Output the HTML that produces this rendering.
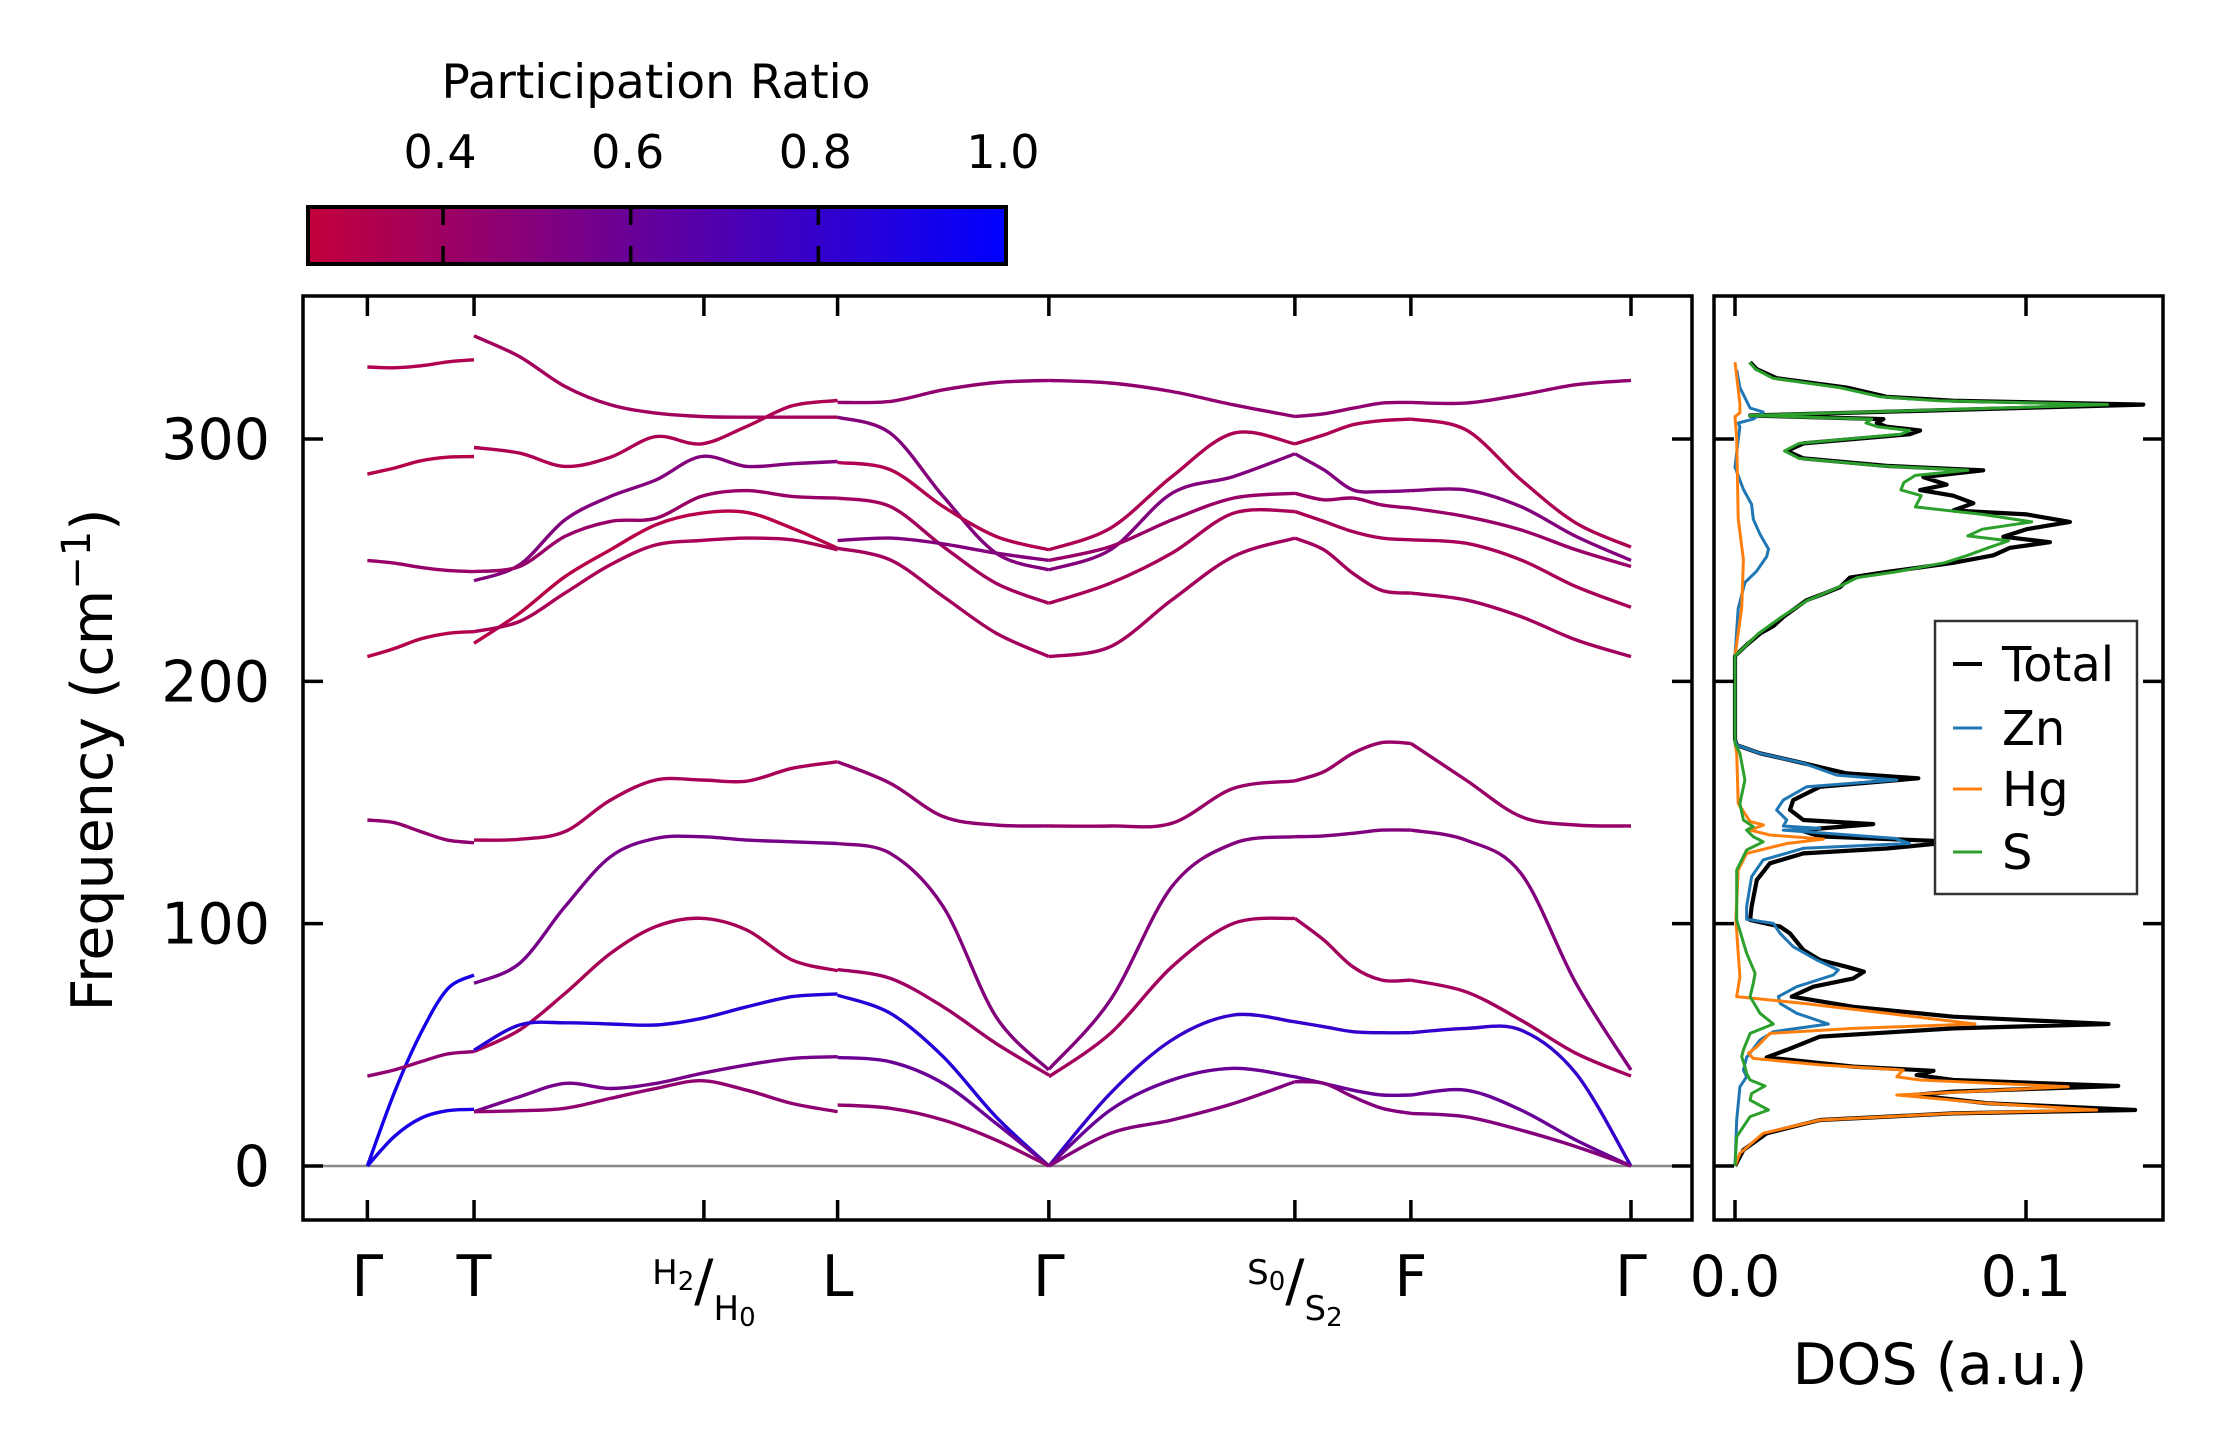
<!DOCTYPE html>
<html><head><meta charset="utf-8"><title>Phonon bands and DOS</title>
<style>
html,body{margin:0;padding:0;background:#fff;}
svg{display:block;font-family:"DejaVu Sans","Liberation Sans",sans-serif;}
</style></head>
<body>
<svg id="fig" width="2222" height="1455" viewBox="0 0 2222 1455" xmlns="http://www.w3.org/2000/svg">
<defs>
<clipPath id="clipMain"><rect x="303" y="296" width="1389" height="924"/></clipPath>
<clipPath id="clipDos"><rect x="1714" y="296" width="449" height="924"/></clipPath>
<linearGradient id="cbGrad" x1="0" x2="1" y1="0" y2="0"></linearGradient>
</defs>
<g id="colorbar">
<text x="656" y="98" font-size="47" text-anchor="middle">Participation Ratio</text>
<rect id="cbRect" x="308" y="207" width="698" height="57" fill="url(#cbGrad)" stroke="#000" stroke-width="4"/>
<g id="cbTicks"></g>
</g>
<g id="mainPanel">
<line x1="303" x2="1692" y1="1166" y2="1166" stroke="#888" stroke-width="2.5"/>
<g id="bands" clip-path="url(#clipMain)"></g>
<rect x="303" y="296" width="1389" height="924" fill="none" stroke="#000" stroke-width="3.5"/>
<g id="mainTicks"></g>
<text transform="translate(112,760) rotate(-90)" font-size="57" text-anchor="middle">Frequency (cm<tspan font-size="40" dy="-22">−1</tspan><tspan dy="22">)</tspan></text>
</g>
<g id="dosPanel">
<g id="dosLines" clip-path="url(#clipDos)"></g>
<rect x="1714" y="296" width="449" height="924" fill="none" stroke="#000" stroke-width="3.5"/>
<g id="dosTicks"></g>
<text x="1940" y="1384" font-size="57" text-anchor="middle">DOS (a.u.)</text>
<g>
<rect x="1935" y="621" width="202" height="273" fill="#fff" stroke="#333" stroke-width="2.5"/>
<g><line x1="1953" x2="1982" y1="664" y2="664" stroke="#000" stroke-width="4"/><text x="2002" y="681" font-size="48">Total</text></g>
<g><line x1="1953" x2="1982" y1="728" y2="728" stroke="#1f77b4" stroke-width="3"/><text x="2002" y="745" font-size="48">Zn</text></g>
<g><line x1="1953" x2="1982" y1="789" y2="789" stroke="#ff7f0e" stroke-width="3"/><text x="2002" y="806" font-size="48">Hg</text></g>
<g><line x1="1953" x2="1982" y1="852" y2="852" stroke="#2ca02c" stroke-width="3"/><text x="2002" y="869" font-size="48">S</text></g>
</g>
</g>
</svg>
<script>
// ---- data ----
const kLabels = ["Γ","T","H","L","Γ","S","F","Γ"];
const kPos = [0, 0.0844, 0.2663, 0.3721, 0.5393, 0.7340, 0.8258, 1.0];
const freqTicks = [0, 100, 200, 300];
const cbTicks = [0.4, 0.6, 0.8, 1.0];
const dosTicks = [0.0, 0.1];
const cbMin = 0.256, cbMax = 1.0;

// Gamma -> T (5 samples each)
const freqGT = [
 [329.7,329.4,330.2,331.8,332.7],[285.5,288,291,292.5,292.8],[249.9,248.8,247,245.8,245.3],
 [210.2,213.5,217.5,219.8,220.5],[142.8,141.7,138,134.5,133.4],[0,30,54.7,73,78.8],
 [37.1,39.6,43,46.2,47.2],[0,12.1,19.7,22.8,23.4]];
const prGT = [0.33,0.31,0.42,0.31,0.45,0.92,0.45,0.9];
// T -> L (9 samples)
const freqTL = [
 [342.6,334,321.7,314.1,310.7,309.3,309,309,309],
 [296.5,294.2,288.7,292.5,301,298,305.2,313.7,315.9],
 [241.5,248.1,266.6,276.3,283.1,292.8,288.7,289.8,290.7],
 [245.3,247.4,259.8,266,267.3,276.3,278.7,276.3,275.6],
 [215.7,228.1,243.2,254.3,264.6,269.4,269.7,263.2,254.9],
 [220.5,224.7,236.4,248.1,256.3,258.1,259.1,258.4,254.3],
 [134.5,134.8,138,151,159.3,159.3,158.8,164.1,166.8],
 [75.4,83.6,107,127.6,135.2,135.9,134.5,133.8,133.1],
 [47.2,56.1,71.2,87.7,98.8,102.2,97.4,85,80.6],
 [47.8,58.2,59.1,58.6,58.2,60.9,65.7,69.9,71],
 [22.4,28.6,34.1,32,34.1,38.2,41.7,44.4,45.1],
 [22.4,22.8,23.8,27.9,32,35.2,31.3,25.8,22.4]];
const prTL = [0.38,0.34,0.5,0.42,0.3,0.35,0.36,0.55,0.36,0.85,0.55,0.45];
// L -> Gamma
const freqLG = [
 [315.1,315.5,320.3,323.3,324.2],[309,302.4,276.3,252.9,246],[290.3,287.3,272.1,259.8,254.3],
 [275.6,272.1,255.6,240.5,232.2],[258.1,259.1,256.7,252.9,249.9],[254.9,250.1,235,219.9,210.2],
 [166.8,157.9,144.2,140.7,140.3],[133.1,129,107,61.6,39.6],[81.1,77.4,65.7,50.6,37.5],
 [70.5,63,45.1,20.3,0],[44.8,43,34.1,17.6,0],[25.2,23.8,19,10.7,0]];
const prLG = [0.45,0.5,0.33,0.38,0.5,0.38,0.45,0.5,0.4,0.85,0.6,0.45];
// Gamma -> S
const freqGS = [
 [324.2,323.1,319.6,314.1,309.3],[254.3,263.2,284.5,302.4,298],[246,254.3,277.6,284.5,293.9],
 [249.9,255.6,266.6,275.6,277.6],[232.2,240.5,252.9,269.4,270.1],[210.2,214.3,233.6,251.5,259.1],
 [140.3,140.3,141.4,155.8,158.9],[39.9,68.5,115.3,133.1,135.9],[36.8,54.7,82.2,100.1,102.2],
 [0,30,52,62.3,59.5],[0,23.1,35.5,40.3,36.8],[0,13.5,19,25.8,34.8]];
// S -> F
const freqSF = [
 [309.3,310.4,312.7,314.8,315.1],[298,301.7,305.9,307.6,308.2],[293.9,287.3,279,278.3,278.7],
 [277.6,274.9,275.6,272.8,271.5],[270.1,266,261.8,259.1,258.4],[259.1,254.3,244.6,237.5,236.4],
 [158.9,162.7,170.3,174.7,174.4],[135.9,136.2,137.3,138.6,138.6],[102.2,93.2,82.2,76.7,76.7],
 [59.5,57.5,55.4,55,55],[36.8,34.1,31.3,29.3,29.3],[34.8,34.1,28.6,23.8,21.7]];
// F -> Gamma
const freqFG = [
 [315.1,314.8,318.2,322.4,324.2],[308.2,303.8,283.2,265.3,255.4],[278.7,279,272.1,259.8,249.9],
 [271.5,268,262.5,254.3,247.4],[258.4,257,250.1,239.1,230.6],[236.4,233.6,226.7,217.1,210.2],
 [174.4,159.3,144.2,140.7,140.3],[138.6,134.5,120.8,75.4,39.6],[76.7,71.9,60.2,46.5,37.1],
 [55,56.8,56.1,38.2,0],[29.3,31.3,23.1,10.7,0],[21.7,20.3,14.8,8,0]];
const prGSFG = [0.45,0.34,0.5,0.42,0.36,0.38,0.42,0.5,0.38,0.8,0.6,0.5];

// DOS: [frequency, dos]
const dosTotal = [[0,0],[6.6,0.0029],[13.5,0.0109],[19,0.0292],[21.7,0.075],[23.1,0.1375],[25.9,0.0865],[29.3,0.0613],[30.7,0.075],[33,0.1317],[35.5,0.075],[37.5,0.0624],[39.3,0.0682],[41,0.0407],[44.8,0.0109],[47.9,0.0178],[53.4,0.0292],[56.8,0.075],[58.6,0.1283],[61.6,0.075],[65.7,0.0407],[69.9,0.0195],[74,0.0269],[77.4,0.0407],[80.2,0.0443],[82.2,0.0384],[85,0.0292],[89.1,0.0235],[96,0.0189],[98.8,0.0155],[101.5,0.0052],[107,0.0057],[118,0.0075],[124.9,0.012],[129,0.0235],[131,0.0521],[133,0.0693],[134.2,0.0682],[136,0.0292],[138.6,0.0223],[141.1,0.0475],[142.8,0.0235],[147,0.0189],[151,0.02],[156.5,0.0292],[160,0.063],[162,0.0384],[166.2,0.0235],[170.3,0.0086],[173.7,0.0006],[176,0],[210.5,0],[215,0.004],[219.7,0.0086],[222.8,0.0132],[226.6,0.0166],[233.5,0.0246],[236.6,0.0315],[238.9,0.0361],[242.8,0.0395],[245.1,0.0521],[248.9,0.075],[252,0.0888],[255.1,0.0945],[257.4,0.1082],[259.7,0.0922],[262.8,0.1002],[265.8,0.1151],[268.9,0.1002],[270.5,0.075],[273.5,0.0819],[276.6,0.075],[278.9,0.0636],[281.2,0.0727],[284.3,0.0647],[287.1,0.0853],[288.9,0.0521],[292,0.0235],[295.1,0.0178],[298.2,0.0235],[302,0.0601],[303.5,0.0636],[305.1,0.0521],[306.6,0.0487],[308.2,0.051],[309.7,0.0052],[312,0.075],[314.2,0.1403],[315.8,0.075],[317.4,0.0521],[321.2,0.0384],[325.1,0.0143],[328.9,0.0074],[331.7,0.0052]];
const dosZn = [[0,0],[19,0.0006],[32.7,0.0017],[36.8,0.004],[39.6,0.0029],[44.8,0.004],[52,0.0086],[55.4,0.0132],[58.6,0.0321],[63,0.0212],[67.1,0.0155],[69.9,0.0149],[74,0.0212],[78.8,0.0338],[80.9,0.0355],[85,0.0281],[90.5,0.02],[96,0.0155],[100.1,0.0132],[101.8,0.004],[107,0.004],[119.4,0.0057],[126.3,0.0097],[131.1,0.0235],[133.1,0.0600],[135.2,0.055],[138.6,0.0166],[139.3,0.0292],[140.3,0.0166],[142.8,0.0178],[146.9,0.0143],[151,0.0166],[156.5,0.0246],[159.3,0.0556],[161.3,0.0349],[166.2,0.0235],[170.3,0.0086],[173.7,0.0006],[176,0],[210.5,0],[230,0.0011],[240.8,0.0034],[245.4,0.0074],[251.5,0.0109],[254.6,0.0115],[260.7,0.0086],[266.9,0.0063],[273,0.0057],[279.2,0.0029],[288.4,0],[299.7,0.0011],[305.1,0.0017],[306.6,0.0011],[308.2,0.0063],[311.1,0.0097],[312.8,0.0052],[321.2,0.0017],[328.5,0.0006]];
const dosHg = [[0,0],[5.2,0.0017],[13.5,0.0097],[19,0.0292],[21.7,0.075],[23.1,0.1243],[25.9,0.0865],[29.3,0.0556],[32.7,0.1145],[35.5,0.0636],[36.8,0.0556],[39.6,0.0578],[41.7,0.0292],[44.4,0.0063],[46.5,0.0046],[49.2,0.0075],[54.7,0.012],[56.8,0.0407],[58.6,0.0825],[63,0.0521],[67.1,0.0235],[69.9,0.0006],[78.1,0.0017],[87.8,0.0011],[101.5,0.0003],[122.1,0.0011],[129,0.004],[133.1,0.0178],[134.9,0.0304],[136.6,0.012],[138.6,0.0052],[140.7,0.0098],[142.1,0.0052],[149.6,0.0011],[170.3,0.0006],[174.4,0],[210.5,0],[230.2,0.0023],[250.2,0.0029],[267.2,0.0011],[300.3,0.0006],[309.2,0],[310.8,0.0017],[314.6,0.0017],[331.7,0]];
const dosS = [[0,0],[12.1,0.0006],[20.4,0.0052],[23.1,0.0115],[27.2,0.0052],[29.9,0.0057],[33,0.0103],[35.5,0.0052],[38.2,0.004],[41,0.0034],[45.1,0.0023],[47.9,0.0029],[54.7,0.0052],[58.6,0.0132],[63,0.0086],[69.9,0.0052],[75.4,0.0063],[79.5,0.0069],[87.8,0.004],[101.5,0.0006],[122.1,0.0006],[130.4,0.004],[133.8,0.0097],[135.9,0.0063],[138.6,0.004],[140,0.0063],[142.8,0.0029],[149.6,0.0017],[159.3,0.0034],[170.3,0.0017],[174.4,0],[210.5,0],[215,0.004],[219.7,0.008],[226.6,0.016],[233.5,0.025],[238,0.034],[242.8,0.042],[245.1,0.055],[248.9,0.072],[252,0.08],[255.1,0.087],[258,0.094],[260,0.08],[262.8,0.085],[265.8,0.102],[268.9,0.085],[272,0.062],[276.6,0.064],[279,0.057],[282,0.058],[285,0.062],[287.1,0.08],[288.9,0.05],[292,0.022],[295.1,0.017],[298.2,0.022],[302,0.057],[303.5,0.06],[305.1,0.049],[306.6,0.045],[308.2,0.047],[309.7,0.005],[312,0.07],[314.2,0.128],[315.8,0.07],[317.4,0.05],[321.2,0.036],[325.1,0.013],[328.9,0.007],[331.7,0.005]];

// ---- axes ----
const NS = "http://www.w3.org/2000/svg";
const X0 = 367.4, XW = 1263.6;
function xk(k){ return X0 + k*XW; }
function yf(f){ return 1166 - f*2.4233; }
function xd(d){ return 1735 + d*2910; }
function xcb(v){ return 308 + (v-cbMin)/(cbMax-cbMin)*698; }
function cmap(v){
  const t = Math.max(0, Math.min(1,(v-cbMin)/(cbMax-cbMin)));
  const r = Math.round(195*(1-t)), g = 0, b = Math.round(60 + (255-60)*t);
  return "rgb("+r+","+g+","+b+")";
}
function mk(tag, attrs, parent){
  const el = document.createElementNS(NS, tag);
  for (const k in attrs) el.setAttribute(k, attrs[k]);
  parent.appendChild(el);
  return el;
}
function smoothPath(pts){
  let d = "M"+pts[0][0].toFixed(1)+","+pts[0][1].toFixed(1);
  for (let i=0;i<pts.length-1;i++){
    const p0 = pts[Math.max(0,i-1)], p1 = pts[i], p2 = pts[i+1], p3 = pts[Math.min(pts.length-1,i+2)];
    const c1x = p1[0]+(p2[0]-p0[0])/6, c1y = p1[1]+(p2[1]-p0[1])/6;
    const c2x = p2[0]-(p3[0]-p1[0])/6, c2y = p2[1]-(p3[1]-p1[1])/6;
    d += " C"+c1x.toFixed(1)+","+c1y.toFixed(1)+" "+c2x.toFixed(1)+","+c2y.toFixed(1)+" "+p2[0].toFixed(1)+","+p2[1].toFixed(1);
  }
  return d;
}

// colorbar gradient
const grad = document.getElementById("cbGrad");
for (let i=0;i<=10;i++){
  const v = cbMin + (cbMax-cbMin)*i/10;
  mk("stop", {offset: (i*10)+"%", "stop-color": cmap(v)}, grad);
}
const cbT = document.getElementById("cbTicks");
cbTicks.forEach(v=>{
  const x = xcb(v);
  if (v < cbMax - 1e-6){
    const t1 = mk("line",{x1:x,x2:x,y1:207,y2:225,stroke:"#000","stroke-width":3.5},cbT);
    
    
    const t2 = mk("line",{x1:x,x2:x,y1:246,y2:264,stroke:"#000","stroke-width":3.5},cbT);
    
    
  }
  const tx = mk("text",{x:x-3,y:168,"font-size":46,"text-anchor":"middle"},cbT);
  tx.textContent = v.toFixed(1);
  
  
});

// bands
const bandsG = document.getElementById("bands");
function drawSeg(kA, kB, freqs, prs, label){
  freqs.forEach((arr, i)=>{
    const n = arr.length;
    const pts = arr.map((f,j)=>[xk(kA + (kB-kA)*j/(n-1)), yf(f)]);
    const p = mk("path",{d:smoothPath(pts),fill:"none",stroke:cmap(prs[i]),"stroke-width":3.4,"stroke-linecap":"butt"},bandsG);
    
    
  });
}
drawSeg(kPos[0],kPos[1],freqGT,prGT,"gamma-t");
drawSeg(kPos[1],kPos[3],freqTL,prTL,"t-l");
drawSeg(kPos[3],kPos[4],freqLG,prLG,"l-gamma");
drawSeg(kPos[4],kPos[5],freqGS,prGSFG,"gamma-s");
drawSeg(kPos[5],kPos[6],freqSF,prGSFG,"s-f");
drawSeg(kPos[6],kPos[7],freqFG,prGSFG,"f-gamma");

// main ticks
const mt = document.getElementById("mainTicks");
freqTicks.forEach(f=>{
  const y = yf(f);
  const a = mk("line",{x1:303,x2:323,y1:y,y2:y,stroke:"#000","stroke-width":3.5},mt);
   
  const b = mk("line",{x1:1672,x2:1692,y1:y,y2:y,stroke:"#000","stroke-width":3.5},mt);
   
  const t = mk("text",{x:270,y:y+20,"font-size":57,"text-anchor":"end"},mt);
  t.textContent = String(f);
   
});
kPos.forEach((k,i)=>{
  const x = xk(k);
  const a = mk("line",{x1:x,x2:x,y1:296,y2:316,stroke:"#000","stroke-width":3.5},mt);
   
  const b = mk("line",{x1:x,x2:x,y1:1200,y2:1220,stroke:"#000","stroke-width":3.5},mt);
   
  let t;
  if (kLabels[i]==="H" || kLabels[i]==="S"){
    const L = kLabels[i];
    const sup = L==="H" ? "2" : "0", sub = L==="H" ? "0" : "2";
    t = mk("text",{x:x,y:1300,"text-anchor":"middle","font-size":57},mt);
    const s1 = mk("tspan",{"font-size":34,dy:"-16"},t); s1.textContent = L;
    const s1b = mk("tspan",{"font-size":26,dy:"6"},t); s1b.textContent = sup;
    const s2 = mk("tspan",{"font-size":57,dy:"10"},t); s2.textContent = "/";
    const s3 = mk("tspan",{"font-size":34,dy:"20"},t); s3.textContent = L;
    const s4 = mk("tspan",{"font-size":26,dy:"6"},t); s4.textContent = sub;
  } else {
    t = mk("text",{x:x,y:1296,"font-size":57,"text-anchor":"middle"},mt);
    t.textContent = kLabels[i];
  }
   
});

// DOS
const dl = document.getElementById("dosLines");
function drawDos(data, color, w, name){
  const d = data.map((p,i)=>(i?"L":"M")+xd(p[1]).toFixed(1)+","+yf(p[0]).toFixed(1)).join(" ");
  const p = mk("path",{d:d,fill:"none",stroke:color,"stroke-width":w,"stroke-linejoin":"round"},dl);
   
}
drawDos(dosTotal,"#000",4.2,"dos-total-line");
drawDos(dosZn,"#1f77b4",3,"dos-zn-line");
drawDos(dosHg,"#ff7f0e",3,"dos-hg-line");
drawDos(dosS,"#2ca02c",3,"dos-s-line");

const dt = document.getElementById("dosTicks");
freqTicks.forEach(f=>{
  const y = yf(f);
  const a = mk("line",{x1:1714,x2:1734,y1:y,y2:y,stroke:"#000","stroke-width":3.5},dt);
   
  const b = mk("line",{x1:2143,x2:2163,y1:y,y2:y,stroke:"#000","stroke-width":3.5},dt);
   
});
dosTicks.forEach(v=>{
  const x = xd(v);
  const a = mk("line",{x1:x,x2:x,y1:1200,y2:1220,stroke:"#000","stroke-width":3.5},dt);
   
  const b = mk("line",{x1:x,x2:x,y1:296,y2:316,stroke:"#000","stroke-width":3.5},dt);
   
  const t = mk("text",{x:x,y:1296,"font-size":57,"text-anchor":"middle"},dt);
  t.textContent = v.toFixed(1);
   
});
</script>
</body></html>
